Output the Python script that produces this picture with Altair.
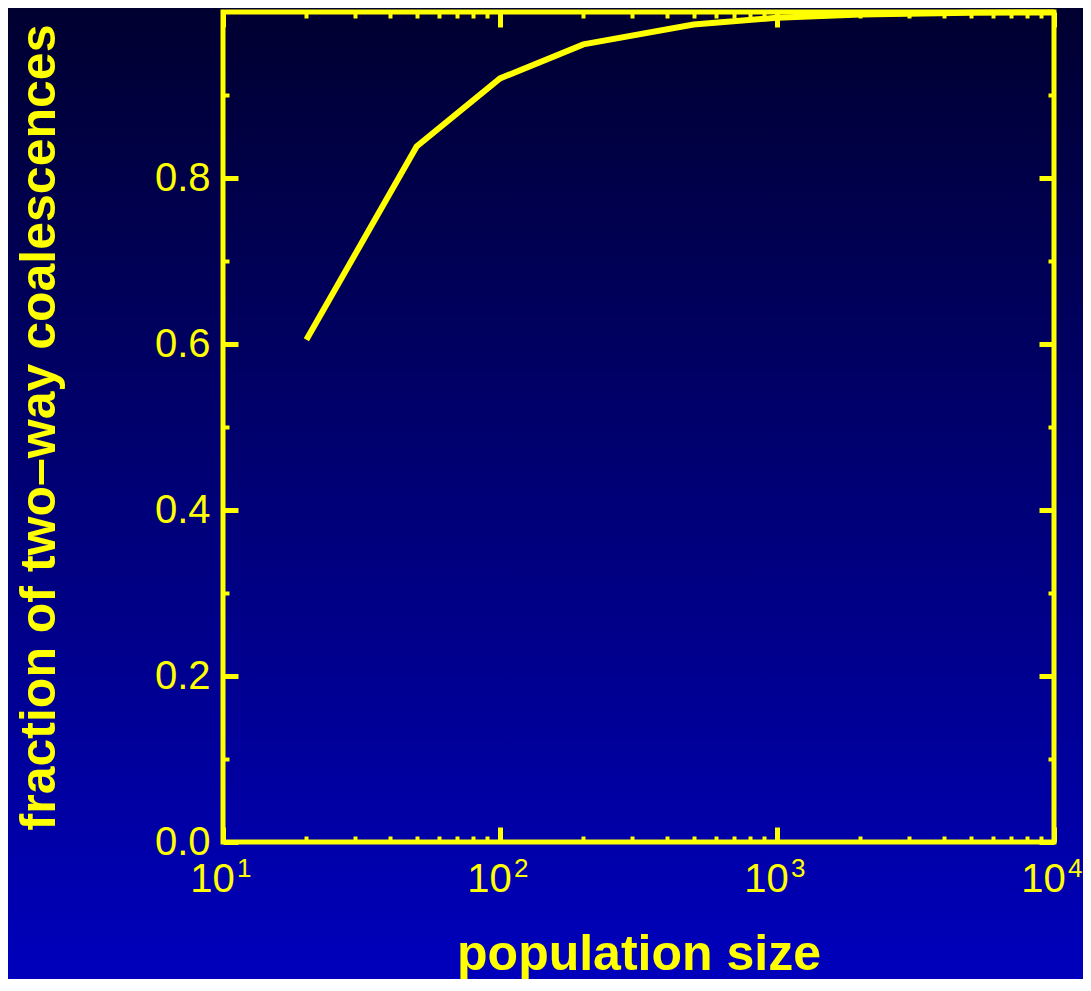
import altair as alt
import pandas as pd

# data
pop_size = [20, 50, 100, 200, 500, 1000, 2000, 5000, 10000]
fraction = [0.605, 0.838, 0.920, 0.961, 0.985, 0.993, 0.997, 0.999, 0.9995]

x_major = [10, 100, 1000, 10000]
x_exponent = ["1", "2", "3", "4"]
x_minor = [v * m for v in [10, 100, 1000] for m in range(2, 10)]
y_major = [0.0, 0.2, 0.4, 0.6, 0.8, 1.0]
y_minor = [0.1, 0.3, 0.5, 0.7, 0.9]

df = pd.DataFrame({"n": pop_size, "f": fraction})
exp_df = pd.DataFrame({"n": x_major, "e": x_exponent})

W, H = 831, 830
PAD = {"left": 215, "top": 4, "right": 29, "bottom": 137}
YEL = "#ffff00"
FONT = "Liberation Sans"

xs = alt.Scale(type="log", domain=[10, 10000])
ys = alt.Scale(domain=[0, 1])

common = dict(domain=False, grid=False, tickColor=YEL, zindex=1, labelColor=YEL,
              labelFont=FONT, tickCap="butt")

bg_df = pd.DataFrame({"a": [0]})
background = alt.Chart(bg_df).mark_rect(
    color=alt.Gradient(
        gradient="linear", x1=0, y1=0, x2=0, y2=1,
        stops=[alt.GradientStop(offset=0, color="#000030"),
               alt.GradientStop(offset=1, color="#0000bc")],
    )
).encode(
    x=alt.value(-PAD["left"]), x2=alt.value(W + PAD["right"]),
    y=alt.value(-PAD["top"]), y2=alt.value(H + PAD["bottom"]),
)

frame = alt.Chart(bg_df).mark_rect(
    fill=None, filled=False, stroke=YEL, strokeWidth=5
).encode(
    x=alt.value(0), x2=alt.value(W), y=alt.value(0), y2=alt.value(H)
)

line = alt.Chart(df).mark_line(color=YEL, strokeWidth=6, strokeJoin="miter").encode(
    x=alt.X("n:Q", scale=xs, axis=alt.Axis(
        orient="bottom", values=x_major, labelExpr="'10'", offset=-15,
        tickSize=15, tickWidth=5, labelPadding=17, labelFontSize=40,
        labelFlush=False, labelOffset=-11, labelOverlap=False,
        title="population size", titleFont=FONT, titleFontSize=50,
        titleFontWeight="bold", titleColor=YEL, titlePadding=30, **common)),
    y=alt.Y("f:Q", scale=ys, axis=alt.Axis(
        orient="left", values=y_major[:-1], format=".1f", offset=-15,
        tickSize=15, tickWidth=5, labelPadding=13, labelFontSize=40,
        labelFlush=False,
        title="fraction of two\u2013way coalescences", titleFont=FONT,
        titleFontSize=50, titleFontWeight="bold", titleColor=YEL,
        titlePadding=90, **common)),
)

exponents = alt.Chart(exp_df).mark_text(
    color=YEL, font=FONT, fontSize=26, align="left", baseline="alphabetic", dx=14
).encode(
    x=alt.X("n:Q", scale=xs, axis=None),
    y=alt.value(H + 35),
    text="e:N",
)

def ghost(xaxis, yaxis):
    return alt.Chart(df).mark_line(opacity=0).encode(
        x=alt.X("n:Q", scale=xs, axis=xaxis),
        y=alt.Y("f:Q", scale=ys, axis=yaxis),
    )

top_right_major = ghost(
    alt.Axis(orient="top", values=x_major, labels=False, title=None, offset=-15,
             tickSize=15, tickWidth=5, **common),
    alt.Axis(orient="right", values=y_major, labels=False, title=None, offset=-15,
             tickSize=15, tickWidth=5, **common),
)
bottom_left_minor = ghost(
    alt.Axis(orient="bottom", values=x_minor, labels=False, title=None, offset=-6,
             tickSize=6, tickWidth=4, **common),
    alt.Axis(orient="left", values=y_minor, labels=False, title=None, offset=-6,
             tickSize=6, tickWidth=4, **common),
)
top_right_minor = ghost(
    alt.Axis(orient="top", values=x_minor, labels=False, title=None, offset=-6,
             tickSize=6, tickWidth=4, **common),
    alt.Axis(orient="right", values=y_minor, labels=False, title=None, offset=-6,
             tickSize=6, tickWidth=4, **common),
)

chart = alt.layer(
    background, frame, line, exponents, top_right_major, bottom_left_minor, top_right_minor
).resolve_axis(x="independent", y="independent").properties(
    width=W, height=H, padding=PAD, autosize=alt.AutoSizeParams(type="none"),
).configure_view(stroke=None).configure(background="#000030")

chart.save("out.html", embed_options={"renderer": "svg", "actions": False})
